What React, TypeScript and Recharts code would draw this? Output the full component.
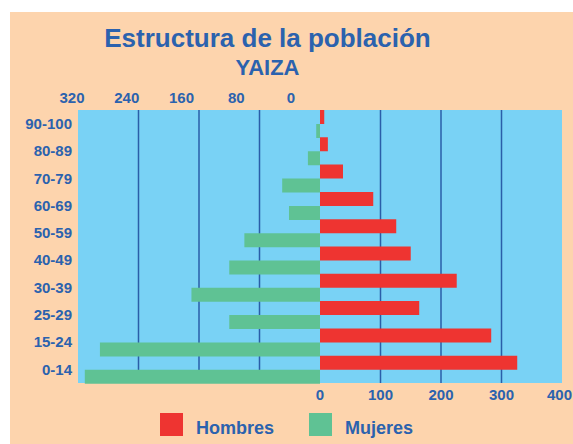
import React from "react";
import { BarChart, Bar, XAxis, YAxis, CartesianGrid } from "recharts";

const categories = ["90-100", "80-89", "70-79", "60-69", "50-59", "40-49", "30-39", "25-29", "15-24", "0-14"];
const hombres = [7, 13, 38, 88, 126, 150, 226, 164, 283, 326];
const mujeres = [5, 16, 50, 41, 100, 120, 170, 120, 291, 311];
const topTicks = [-320, -240, -160, -80, 0];
const bottomTicks = [0, 100, 200, 300, 400];
const gridValues = [-300, -200, -100, 100, 200, 300];
const seriesNames = ["Hombres", "Mujeres"];
const seriesColors = ["#EE3431", "#5FC294"];

const data = categories.map((c, i) => ({ cat: c, hombres: hombres[i], mujeres: -mujeres[i] }));

const BLUE_TEXT = "#2B62AE";
const FONT = "'Liberation Sans', Arial, sans-serif";
const tickStyle = { fill: BLUE_TEXT, fontSize: 15, fontWeight: 700, fontFamily: FONT };

const BottomTick = (props: any) => {
  const { x, y, payload } = props;
  const isLast = payload.value === bottomTicks[bottomTicks.length - 1];
  return (
    <text
      x={isLast ? x + 10 : x}
      y={y}
      dy="0.71em"
      textAnchor={isLast ? "end" : "middle"}
      fill={BLUE_TEXT}
      fontSize={15}
      fontWeight={700}
      fontFamily={FONT}
    >
      {payload.value}
    </text>
  );
};

export default function App() {
  return (
    <div
      style={{
        position: "absolute",
        left: 10,
        top: 12,
        width: 563,
        height: 432,
        background: "#FDD4AD",
        overflow: "hidden",
        fontFamily: FONT,
      }}
    >
      <div
        style={{
          position: "absolute",
          left: 0,
          top: 13,
          width: 515,
          textAlign: "center",
          fontSize: 26,
          lineHeight: 1,
          fontWeight: 700,
          color: BLUE_TEXT,
          whiteSpace: "nowrap",
        }}
      >
        Estructura de la población
      </div>
      <div
        style={{
          position: "absolute",
          left: 0,
          top: 45,
          width: 515,
          textAlign: "center",
          fontSize: 22,
          lineHeight: 1,
          fontWeight: 700,
          color: BLUE_TEXT,
        }}
      >
        YAIZA
      </div>
      <div style={{ position: "absolute", left: 0, top: 0 }}>
        <BarChart
          width={583}
          height={432}
          data={data}
          layout="vertical"
          barCategoryGap={0}
          barGap={0}
          margin={{ top: 68, right: 31, bottom: 31, left: 0 }}
        >
          <CartesianGrid
            xAxisId="bottom"
            horizontal={false}
            vertical={true}
            verticalValues={gridValues}
            fill="#79D2F5"
            fillOpacity={1}
            stroke="#2A5EA8"
            strokeWidth={1.5}
          />
          <XAxis
            xAxisId="labelsTop"
            orientation="top"
            type="number"
            domain={[-320, 0]}
            ticks={topTicks}
            interval={0}
            padding={{ left: -6, right: 271 }}
            tickFormatter={(v: number) => String(Math.abs(v))}
            axisLine={false}
            tickLine={false}
            tickSize={0}
            tickMargin={7}
            height={30}
            tick={tickStyle}
            allowDataOverflow
          />
          <XAxis
            xAxisId="women"
            orientation="top"
            type="number"
            domain={[-320, 320]}
            hide
            allowDataOverflow
          />
          <XAxis
            xAxisId="bottom"
            orientation="bottom"
            type="number"
            domain={[-400, 400]}
            ticks={bottomTicks}
            interval={0}
            axisLine={false}
            tickLine={false}
            tickSize={0}
            tickMargin={6}
            height={30}
            tick={<BottomTick />}
            allowDataOverflow
          />
          <YAxis
            type="category"
            dataKey="cat"
            width={68}
            axisLine={false}
            tickLine={false}
            tickSize={0}
            tickMargin={6}
            interval={0}
            tick={tickStyle}
          />
          <Bar
            dataKey="hombres"
            name={seriesNames[0]}
            xAxisId="bottom"
            fill={seriesColors[0]}
            isAnimationActive={false}
          />
          <Bar
            dataKey="mujeres"
            name={seriesNames[1]}
            xAxisId="women"
            fill={seriesColors[1]}
            isAnimationActive={false}
          />
        </BarChart>
      </div>
      {seriesNames.map((n, i) => (
        <div
          key={n}
          style={{
            position: "absolute",
            left: 150 + i * 149,
            top: 401,
            display: "flex",
            alignItems: "flex-end",
            whiteSpace: "nowrap",
          }}
        >
          <div style={{ width: 23, height: 23, background: seriesColors[i] }} />
          <div
            style={{
              marginLeft: 13,
              fontSize: 18,
              fontWeight: 700,
              lineHeight: 1,
              color: BLUE_TEXT,
              marginBottom: -1,
            }}
          >
            {n}
          </div>
        </div>
      ))}
    </div>
  );
}
